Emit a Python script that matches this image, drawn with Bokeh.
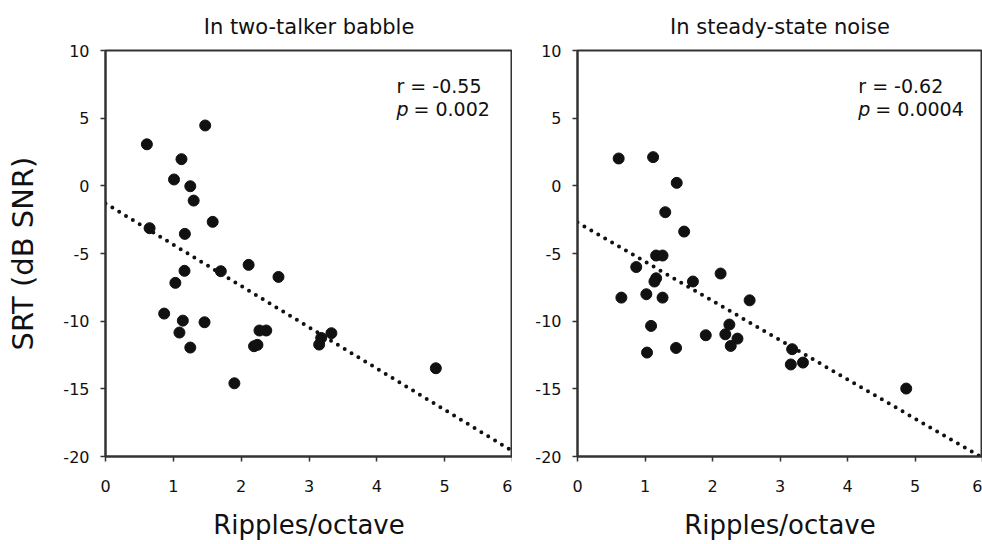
from bokeh.plotting import figure
from bokeh.layouts import row
from bokeh.models import Range1d, FixedTicker, Label
from bokeh.embed import file_html
from bokeh.resources import INLINE

x_ticks = [0, 1, 2, 3, 4, 5, 6]
y_ticks = [-20, -15, -10, -5, 0, 5, 10]

titles = ["In two-talker babble", "In steady-state noise"]

babble_x = [1.47, 0.61, 1.12, 1.01, 1.25, 1.30, 0.65, 1.58, 1.17, 2.11, 1.165, 1.70, 2.55, 1.03,
            0.865, 1.14, 1.09, 1.46, 1.25, 2.27, 2.37, 2.19, 2.24, 1.90, 3.15, 3.18, 3.33, 4.87]
babble_y = [4.46, 3.07, 1.97, 0.47, -0.03, -1.09, -3.13, -2.66, -3.55, -5.84, -6.28, -6.31, -6.73, -7.17,
            -9.44, -9.96, -10.84, -10.08, -11.95, -10.69, -10.69, -11.85, -11.75, -14.59, -11.73, -11.24, -10.89, -13.48]

noise_x = [0.61, 1.12, 1.47, 1.30, 1.58, 1.165, 1.26, 0.87, 2.12, 1.165, 1.14, 1.71, 0.65, 1.02,
           1.26, 2.55, 1.09, 2.25, 1.90, 2.19, 2.37, 2.27, 1.46, 1.03, 3.18, 3.16, 3.34, 4.87]
noise_y = [2.02, 2.12, 0.22, -1.95, -3.38, -5.15, -5.15, -6.00, -6.48, -6.83, -7.07, -7.07, -8.26, -8.01,
           -8.26, -8.46, -10.35, -10.25, -11.04, -10.97, -11.29, -11.83, -11.98, -12.32, -12.07, -13.20, -13.06, -14.98]

# regression lines: intercept, slope
babble_fit = [-1.3, -3.05]
noise_fit = [-2.7, -2.9]

r_texts = ["r = -0.55", "r = -0.62"]
p_texts = ["= 0.002", "= 0.0004"]

FONT = "DejaVu Sans"
INK = "#111111"
AXC = "#333333"


def panel(title, xs, ys, fit, r_text, p_text, width, mleft, mright, ylabel, tx):
    p = figure(width=width, height=544, x_range=Range1d(0, 6), y_range=Range1d(-20, 10),
               output_backend="svg", toolbar_location=None,
               min_border_left=mleft, min_border_right=mright, min_border_top=50, min_border_bottom=88)
    p.title.text = title
    p.title.align = "center"
    p.title.text_font = FONT
    p.title.text_font_size = "21px"
    p.title.text_font_style = "normal"
    p.title.text_color = INK
    p.title.standoff = 23
    p.grid.visible = False
    p.outline_line_color = AXC
    p.outline_line_width = 2
    p.background_fill_color = "white"
    p.border_fill_color = "white"

    for ax in (p.xaxis, p.yaxis):
        ax.minor_tick_line_color = None
        ax.major_tick_in = 0
        ax.major_tick_out = 5
        ax.major_tick_line_color = AXC
        ax.major_tick_line_width = 1.5
        ax.axis_line_color = AXC
        ax.axis_line_width = 2
        ax.major_label_text_font = FONT
        ax.major_label_text_font_size = "16px"
        ax.major_label_text_color = INK
        ax.axis_label_text_font = FONT
        ax.axis_label_text_font_style = "normal"
        ax.axis_label_text_color = INK
    p.xaxis.ticker = FixedTicker(ticks=x_ticks)
    p.yaxis.ticker = FixedTicker(ticks=y_ticks)
    p.xaxis.major_label_overrides = {t: str(t) for t in x_ticks}
    p.yaxis.major_label_overrides = {t: str(t) for t in y_ticks}
    p.xaxis.major_label_standoff = 18
    p.yaxis.major_label_standoff = 11
    p.xaxis.axis_label = "Ripples/octave"
    p.xaxis.axis_label_text_font_size = "26px"
    p.xaxis.axis_label_standoff = 15
    if ylabel:
        p.yaxis.axis_label = "SRT (dB SNR)"
        p.yaxis.axis_label_text_font_size = "29px"
        p.yaxis.axis_label_standoff = 20

    x0, x1 = 0, 6
    p.line([x0, x1], [fit[0] + fit[1] * x0, fit[0] + fit[1] * x1], line_color=INK, line_width=4,
           line_dash="0 8", line_cap="round")
    p.scatter(xs, ys, size=11, fill_color=INK, line_color=INK, marker="circle")

    p.add_layout(Label(x=tx, y=7.35, text=r_text, text_font=FONT, text_font_size="19px",
                       text_color=INK, text_baseline="alphabetic"))
    p.add_layout(Label(x=tx, y=5.65, text="p", text_font=FONT, text_font_size="19px",
                       text_font_style="italic", text_color=INK, text_baseline="alphabetic"))
    p.add_layout(Label(x=tx, y=5.65, x_offset=17, text=p_text, text_font=FONT, text_font_size="19px",
                       text_color=INK, text_baseline="alphabetic"))
    return p


p1 = panel(titles[0], babble_x, babble_y, babble_fit, r_texts[0], p_texts[0], 512, 105, 0, True, 4.29)
p2 = panel(titles[1], noise_x, noise_y, noise_fit, r_texts[1], p_texts[1], 470, 65, 0, False, 4.16)

layout = row(p1, p2)
open("out.html", "w").write(file_html(layout, INLINE))
